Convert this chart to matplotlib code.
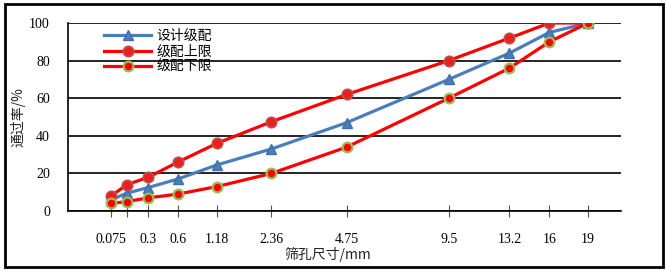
import numpy as np
import matplotlib
matplotlib.use("Agg")
import matplotlib.pyplot as plt
from matplotlib.patches import Rectangle

sieve = [0.075, 0.15, 0.3, 0.6, 1.18, 2.36, 4.75, 9.5, 13.2, 16, 19]
design = [6, 9.5, 12.5, 17, 24.5, 33, 47, 70, 84, 95, 100]
upper = [8, 14, 18, 26, 36, 47.5, 62, 80, 92, 100, 100]
lower = [4, 5, 7, 9, 13, 20, 34, 60, 76, 90, 100]
tick_vals = [0.075, 0.15, 0.3, 0.6, 1.18, 2.36, 4.75, 9.5, 13.2, 16, 19]
tick_labels = ["0.075", "", "0.3", "0.6", "1.18", "2.36", "4.75", "9.5", "13.2", "16", "19"]
yticks = [0, 20, 40, 60, 80, 100]
series_names = ["设计级配", "级配上限", "级配下限"]

cjk = ["Noto Sans CJK SC", "DejaVu Sans"]
num_font = ["Liberation Serif", "DejaVu Serif"]

fig = plt.figure(figsize=(6.66, 2.70), dpi=100)
ax = fig.add_axes([68/666, 1-211/270, (621-68)/666, (211-23)/270])

p = 0.45
ax.set_xscale("function", functions=(lambda x: np.power(np.clip(x, 0, None), p),
                                     lambda y: np.power(np.clip(y, 0, None), 1/p)))
ax.set_xlim(0, 4**(1/p))
ax.set_ylim(0, 100)

ax.plot(sieve, design, color="#4A7EBB", lw=2.3, marker="^", ms=7,
        mfc="#4A7EBB", mec="#3E6FAA", label=series_names[0], zorder=3)
ax.plot(sieve, upper, color="#FF0000", lw=2.3, marker="o", ms=7.5,
        mfc="#E8201E", mec="#C0504D", mew=1.2, label=series_names[1], zorder=3)
ax.plot(sieve, lower, color="#FF0000", lw=2.3, marker="o", ms=7,
        mfc="#FF0000", mec="#9BBB59", mew=1.6, label=series_names[2], zorder=3)

ax.set_yticks(yticks)
ax.set_yticklabels([str(v) for v in yticks], fontfamily=num_font, fontsize=10)
ax.tick_params(axis="y", length=0, pad=13)
ax.yaxis.grid(True, color="black", lw=1.2)
ax.set_axisbelow(True)

ax.set_xticks(tick_vals)
ax.set_xticklabels(tick_labels, fontfamily=num_font, fontsize=10)
ax.xaxis.set_minor_locator(matplotlib.ticker.NullLocator())
ax.tick_params(axis="x", direction="inout", length=9, width=0.8, color="#555555", pad=11)

for s in ["top", "right"]:
    ax.spines[s].set_visible(False)
ax.spines["left"].set_linewidth(1.2)
ax.spines["bottom"].set_linewidth(1.2)

fig.text(18/666, 1-117/270, "通过率/%", rotation=90, ha="center", va="center",
         fontfamily=cjk, fontsize=10, color="#222222")
fig.text(328/666, 1-255/270, "筛孔尺寸/mm", ha="center", va="center",
         fontfamily=cjk, fontsize=10, color="#222222")

leg = ax.legend(loc="upper left", bbox_to_anchor=((104-68)/553, (211-29)/188),
                frameon=False, prop={"family": cjk, "size": 10},
                handlelength=3.4, handletextpad=0.4, labelspacing=0.1,
                borderpad=0, borderaxespad=0)

fig.patches.append(Rectangle((5/666, 1-267/270), 658/666, 263/270, transform=fig.transFigure,
                             fill=False, edgecolor="black", lw=2.0))

fig.savefig("out.png", dpi=100)
